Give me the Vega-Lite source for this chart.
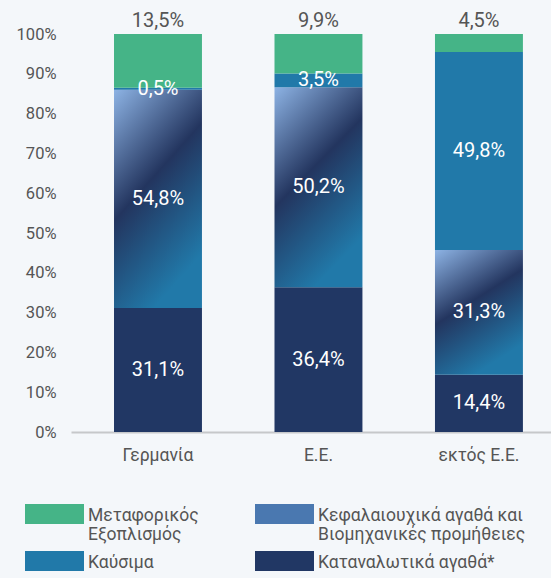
{
  "$schema": "https://vega.github.io/schema/vega-lite/v6.json",
  "width": 480,
  "height": 398,
  "autosize": {"type": "none"},
  "padding": {"left": 71, "top": 34, "right": 0, "bottom": 146},
  "background": "#f4f7fa",
  "config": {
    "view": {"stroke": null},
    "font": "Roboto"
  },
  "data": {
    "values": [
      {"region": "Γερμανία", "cat": "Καταναλωτικά αγαθά*", "v": 31.1},
      {"region": "Γερμανία", "cat": "Κεφαλαιουχικά αγαθά και Βιομηχανικές προμήθειες", "v": 54.8},
      {"region": "Γερμανία", "cat": "Καύσιμα", "v": 0.5},
      {"region": "Γερμανία", "cat": "Μεταφορικός Εξοπλισμός", "v": 13.5},
      {"region": "Ε.Ε.", "cat": "Καταναλωτικά αγαθά*", "v": 36.4},
      {"region": "Ε.Ε.", "cat": "Κεφαλαιουχικά αγαθά και Βιομηχανικές προμήθειες", "v": 50.2},
      {"region": "Ε.Ε.", "cat": "Καύσιμα", "v": 3.5},
      {"region": "Ε.Ε.", "cat": "Μεταφορικός Εξοπλισμός", "v": 9.9},
      {"region": "εκτός Ε.Ε.", "cat": "Καταναλωτικά αγαθά*", "v": 14.4},
      {"region": "εκτός Ε.Ε.", "cat": "Κεφαλαιουχικά αγαθά και Βιομηχανικές προμήθειες", "v": 31.3},
      {"region": "εκτός Ε.Ε.", "cat": "Καύσιμα", "v": 49.8},
      {"region": "εκτός Ε.Ε.", "cat": "Μεταφορικός Εξοπλισμός", "v": 4.5}
    ]
  },
  "transform": [
    {"calculate": "indexof(['Καταναλωτικά αγαθά*','Κεφαλαιουχικά αγαθά και Βιομηχανικές προμήθειες','Καύσιμα','Μεταφορικός Εξοπλισμός'], datum.cat)", "as": "ord"},
    {"stack": "v", "groupby": ["region"], "sort": [{"field": "ord", "order": "ascending"}], "offset": "normalize", "as": ["y0", "y1"]},
    {"calculate": "(datum.y0 + datum.y1) / 2", "as": "ym"},
    {"calculate": "replace(format(datum.v, '.1f'), '.', ',') + '%'", "as": "lab"}
  ],
  "encoding": {
    "x": {
      "field": "region",
      "type": "nominal",
      "sort": ["Γερμανία", "Ε.Ε.", "εκτός Ε.Ε."],
      "scale": {"paddingInner": 0.452, "paddingOuter": 0.2215, "align": 0.605},
      "axis": {
        "title": null,
        "labelAngle": 0,
        "ticks": false,
        "domainColor": "#c6c8ca",
        "domainWidth": 2,
        "labelFontSize": 17.5,
        "labelColor": "#555555",
        "labelPadding": 14,
        "grid": false
      }
    }
  },
  "layer": [
    {
      "mark": {"type": "bar"},
      "encoding": {
        "y": {
          "field": "y1",
          "type": "quantitative",
          "scale": {"domain": [0, 1]},
          "axis": {
            "title": null,
            "domain": false,
            "ticks": false,
            "grid": false,
            "labelOverlap": false,
            "values": [0, 0.1, 0.2, 0.3, 0.4, 0.5, 0.6, 0.7, 0.8, 0.9, 1],
            "format": ".0%",
            "labelFontSize": 16.5,
            "labelColor": "#555555",
            "labelPadding": 15
          }
        },
        "y2": {"field": "y0"},
        "fill": {
          "condition": {
            "test": "datum.cat === 'Κεφαλαιουχικά αγαθά και Βιομηχανικές προμήθειες'",
            "value": {
              "gradient": "linear",
              "x1": 0, "y1": 0, "x2": 0.45, "y2": 1,
              "stops": [
                {"offset": 0, "color": "#8db3e4"},
                {"offset": 0.5, "color": "#23355f"},
                {"offset": 1, "color": "#2179a9"}
              ]
            }
          },
          "field": "cat",
          "type": "nominal",
          "scale": {
            "domain": ["Μεταφορικός Εξοπλισμός", "Κεφαλαιουχικά αγαθά και Βιομηχανικές προμήθειες", "Καύσιμα", "Καταναλωτικά αγαθά*"],
            "range": ["#45b487", "#4a78b0", "#2179a9", "#213764"]
          },
          "legend": {
            "title": null,
            "orient": "none",
            "legendX": -46,
            "legendY": 462.6,
            "columns": 2,
            "direction": "horizontal",
            "padding": 0,
            "symbolType": "M-1,-0.26H4.9V1.74H-1Z",
            "symbolSize": 400,
            "symbolStrokeWidth": 0,
            "symbolOpacity": 1,
            "labelFontSize": 17.5,
            "labelColor": "#555555",
            "labelLimit": 300,
            "labelOffset": 43,
            "labelBaseline": "top",
            "columnPadding": 56,
            "rowPadding": 0,
            "labelExpr": "datum.label === 'Μεταφορικός Εξοπλισμός' ? ['Μεταφορικός', 'Εξοπλισμός'] : datum.label === 'Κεφαλαιουχικά αγαθά και Βιομηχανικές προμήθειες' ? ['Κεφαλαιουχικά αγαθά και', 'Βιομηχανικές προμήθειες'] : datum.label"
          }
        }
      }
    },
    {
      "transform": [{"filter": "datum.cat !== 'Μεταφορικός Εξοπλισμός'"}],
      "mark": {"type": "text", "color": "#ffffff", "fontSize": 20, "baseline": "middle"},
      "encoding": {
        "y": {"field": "ym", "type": "quantitative", "scale": {"domain": [0, 1]}, "axis": {
            "title": null,
            "domain": false,
            "ticks": false,
            "grid": false,
            "labelOverlap": false,
            "values": [0, 0.1, 0.2, 0.3, 0.4, 0.5, 0.6, 0.7, 0.8, 0.9, 1],
            "format": ".0%",
            "labelFontSize": 16.5,
            "labelColor": "#555555",
            "labelPadding": 15
          }},
        "text": {"field": "lab"}
      }
    },
    {
      "transform": [{"filter": "datum.cat === 'Μεταφορικός Εξοπλισμός'"}],
      "mark": {"type": "text", "color": "#555555", "fontSize": 20, "baseline": "middle", "dy": -13},
      "encoding": {
        "y": {"field": "y1", "type": "quantitative", "scale": {"domain": [0, 1]}, "axis": {
            "title": null,
            "domain": false,
            "ticks": false,
            "grid": false,
            "labelOverlap": false,
            "values": [0, 0.1, 0.2, 0.3, 0.4, 0.5, 0.6, 0.7, 0.8, 0.9, 1],
            "format": ".0%",
            "labelFontSize": 16.5,
            "labelColor": "#555555",
            "labelPadding": 15
          }},
        "text": {"field": "lab"}
      }
    }
  ]
}
